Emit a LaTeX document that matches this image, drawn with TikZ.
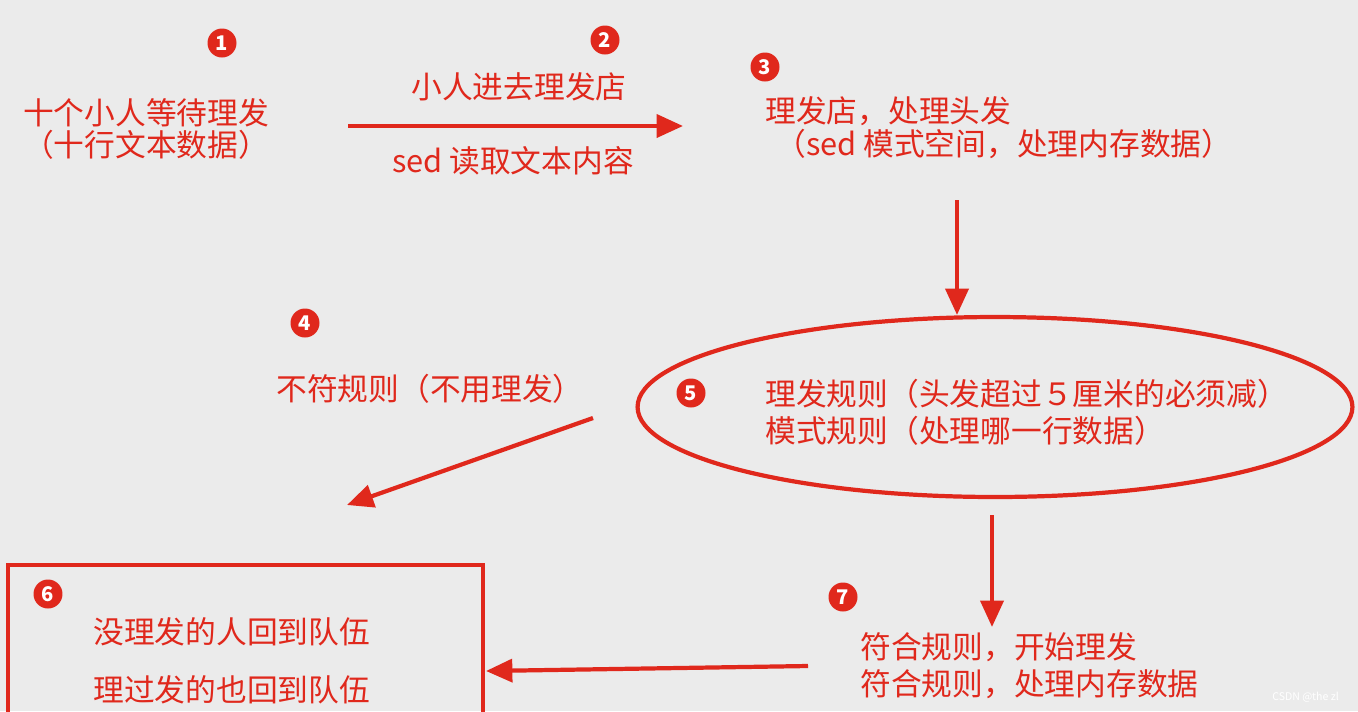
\documentclass[tikz,border=0pt]{standalone}
\usepackage{fontspec}
\setmainfont{Noto Sans CJK SC}
\usetikzlibrary{arrows.meta,shapes.geometric}
\definecolor{rd}{HTML}{E0281C}
\definecolor{bg}{HTML}{EBEBEB}
\begin{document}
\begin{tikzpicture}[x=0.02cm,y=-0.02cm,
  num/.style={circle,fill=rd,text=white,inner sep=0pt,minimum size=0.58cm,font=\bfseries\fontsize{11.5pt}{11.5pt}\selectfont},
  lbl/.style={text=rd,font=\fontsize{17.5pt}{21pt}\selectfont,inner sep=0pt},
  arr/.style={draw=rd,line width=2.4pt,-{Triangle[length=15pt,width=13pt]}},
  box/.style={draw=rd,line width=2.4pt}]
\fill[bg] (0,0) rectangle (1358,711);
\useasboundingbox (0,0) rectangle (1358,711);
\node[num] (n1) at (222,43) {1};
\node[num] (n2) at (605,40) {2};
\node[num] (n3) at (765,67) {3};
\node[num] (n4) at (305,323) {4};
\node[num] (n6) at (48,594) {6};
\node[num] (n7) at (843,597) {7};
\node[lbl] (t1a) at (146,113) {十个小人等待理发};
\node[lbl] (t1b) at (146,145) {（十行文本数据）};
\node[lbl] (t2a) at (519,87) {小人进去理发店};
\node[lbl] (t2b) at (513,161) {sed 读取文本内容};
\coordinate (a1s) at (348,126); \coordinate (a1e) at (683,126);
\draw[arr] (a1s) -- (a1e);
\node[lbl,anchor=west] (t3a) at (765,111) {理发店，处理头发};
\node[lbl,anchor=west] (t3b) at (775,144) {（sed 模式空间，处理内存数据）};
\coordinate (a2s) at (957,200); \coordinate (a2e) at (957,315);
\draw[arr] (a2s) -- (a2e);
\node[draw=rd,line width=2.4pt,ellipse,minimum width=14.3cm,minimum height=3.6cm] (ell) at (995,407) {};
\node[num] (n5) at (691,393) {5};
\node[lbl,anchor=west,align=left] (t5) at (765,412) {理发规则（头发超过５厘米的必须减）\\模式规则（处理哪一行数据）};
\node[lbl] (t4) at (430,389) {不符规则（不用理发）};
\coordinate (a3s) at (593,418); \coordinate (a3e) at (347,505);
\draw[arr] (a3s) -- (a3e);
\coordinate (a4s) at (992,515); \coordinate (a4e) at (992,627);
\draw[arr] (a4s) -- (a4e);
\node[lbl,anchor=west,align=left] (t7) at (860,666) {符合规则，开始理发\\符合规则，处理内存数据};
\coordinate (a5s) at (808,666); \coordinate (a5e) at (486,671);
\draw[arr] (a5s) -- (a5e);
\draw[box] (8,715) -- (8,565) -- (483,565) -- (483,715);
\node[lbl,anchor=west] (t6a) at (93,632) {没理发的人回到队伍};
\node[lbl,anchor=west] (t6b) at (93,690) {理过发的也回到队伍};
\node[text=white,font=\fontsize{6pt}{7pt}\selectfont,anchor=east] (wm) at (1345,697) {CSDN @the zl};
\end{tikzpicture}
\end{document}
